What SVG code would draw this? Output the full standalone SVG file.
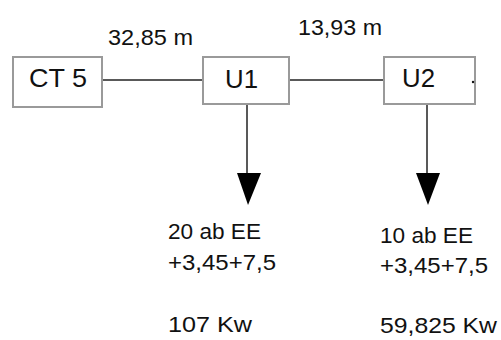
<svg xmlns="http://www.w3.org/2000/svg" width="501" height="340" viewBox="0 0 501 340">
<style>
.box{fill:#fff;stroke:#9a9a9a;stroke-width:2}
.nt{font-family:"Liberation Sans",Arial,sans-serif;font-size:26px;fill:#111}
.lt{font-family:"Liberation Sans",Arial,sans-serif;font-size:22px;fill:#111}
.ln{stroke:#222;stroke-width:1.5;fill:none}
.ah{fill:#000}
</style>
<rect width="501" height="340" fill="#fff"/>
<g id="connectors">
<line class="ln" x1="102" y1="80" x2="203" y2="80"/>
<line class="ln" x1="289" y1="80" x2="384" y2="80"/>
<line class="ln" x1="247" y1="104" x2="247" y2="178"/>
<polygon class="ah" points="237,173 261,173 248,205"/>
<line class="ln" x1="427" y1="104" x2="427" y2="178"/>
<polygon class="ah" points="416,173 440,173 428,205"/>
<text class="lt" x="108" y="45" textLength="85" lengthAdjust="spacingAndGlyphs">32,85 m</text>
<text class="lt" x="298" y="35" textLength="84" lengthAdjust="spacingAndGlyphs">13,93 m</text>
</g>
<g id="ct5">
<rect class="box" x="13" y="57" width="89" height="50"/>
<text class="nt" x="29" y="87" textLength="58" lengthAdjust="spacingAndGlyphs">CT 5</text>
</g>
<g id="u1">
<rect class="box" x="203" y="57" width="86" height="47"/>
<text class="nt" x="225" y="88" textLength="33" lengthAdjust="spacingAndGlyphs">U1</text>
</g>
<g id="u2">
<rect class="box" x="384" y="57" width="91" height="47"/>
<circle cx="473" cy="82" r="1.2" fill="#111"/>
<text class="nt" x="402" y="87" textLength="33" lengthAdjust="spacingAndGlyphs">U2</text>
</g>
<g id="load1">
<text class="lt" x="168" y="239" textLength="93" lengthAdjust="spacingAndGlyphs">20 ab EE</text>
<text class="lt" x="168" y="270" textLength="108" lengthAdjust="spacingAndGlyphs">+3,45+7,5</text>
<text class="lt" x="168" y="332" textLength="84" lengthAdjust="spacingAndGlyphs">107 Kw</text>
</g>
<g id="load2">
<text class="lt" x="380" y="243" textLength="93" lengthAdjust="spacingAndGlyphs">10 ab EE</text>
<text class="lt" x="380" y="273" textLength="108" lengthAdjust="spacingAndGlyphs">+3,45+7,5</text>
<text class="lt" x="380" y="333" textLength="117" lengthAdjust="spacingAndGlyphs">59,825 Kw</text>
</g>
</svg>
